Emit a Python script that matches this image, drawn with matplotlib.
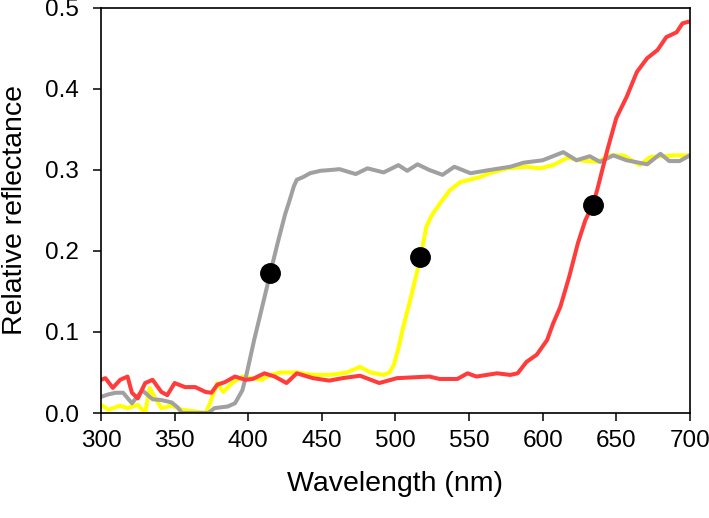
import numpy as np
import matplotlib
matplotlib.use("Agg")
import matplotlib.pyplot as plt

plt.rcParams['font.family'] = ['Liberation Sans', 'DejaVu Sans']

# gray curve
gray_wl = [300, 305, 310, 315, 321, 328, 335, 341, 348, 352, 355, 373, 377, 386, 391,
           396, 399, 404, 410, 415, 420, 425, 428, 431, 433, 437, 442, 449, 456, 462, 473,
           481, 492, 502, 508, 515, 523, 532, 540, 551, 564, 578, 587, 600, 614, 623,
           632, 639, 648, 657, 671, 680, 686, 693, 699, 700]
gray_r = [0.020, 0.023, 0.025, 0.025, 0.012, 0.028, 0.017, 0.016, 0.013, 0.007, 0.0, 0.0,
          0.006, 0.008, 0.012, 0.028, 0.049, 0.090, 0.135, 0.173, 0.210, 0.245, 0.262,
          0.280, 0.288, 0.291, 0.296, 0.299, 0.300, 0.301, 0.295, 0.302, 0.297, 0.306, 0.299,
          0.307, 0.300, 0.294, 0.304, 0.296, 0.300, 0.304, 0.309, 0.312, 0.322, 0.312,
          0.317, 0.310, 0.318, 0.312, 0.307, 0.320, 0.311, 0.311, 0.317, 0.318]

# yellow curve
yellow_wl = [300, 305, 313, 318, 325, 330, 333, 337, 341, 348, 355, 364, 371, 374, 379,
             383, 389, 396, 409, 415, 422, 433, 444, 456, 467, 476, 483, 492, 496, 499,
             502, 505, 510, 517, 521, 525, 530, 537, 544, 557, 564, 576, 589, 598, 607,
             617, 625, 637, 646, 655, 666, 673, 689, 698, 700]
yellow_r = [0.010, 0.004, 0.009, 0.006, 0.010, 0.0, 0.031, 0.018, 0.006, 0.009, 0.004,
            0.002, 0.0, 0.012, 0.037, 0.026, 0.037, 0.045, 0.041, 0.047, 0.050, 0.050,
            0.047, 0.047, 0.050, 0.057, 0.050, 0.047, 0.050, 0.060, 0.080, 0.104, 0.139,
            0.192, 0.230, 0.245, 0.258, 0.275, 0.285, 0.291, 0.296, 0.302, 0.304, 0.302,
            0.306, 0.315, 0.312, 0.310, 0.318, 0.318, 0.306, 0.316, 0.318, 0.318, 0.318]

# red curve
red_wl = [300, 303, 308, 313, 318, 321, 325, 330, 335, 341, 345, 350, 357, 364, 371,
          375, 379, 384, 391, 398, 403, 411, 418, 426, 433, 444, 455, 464, 476, 489,
          501, 512, 523, 530, 542, 549, 555, 569, 578, 583, 589, 596, 603, 607, 612,
          618, 624, 629, 634, 637, 644, 650, 657, 664, 671, 678, 684, 691, 695, 699, 700]
red_r = [0.041, 0.043, 0.031, 0.041, 0.045, 0.025, 0.018, 0.037, 0.041, 0.026, 0.022,
         0.037, 0.032, 0.032, 0.026, 0.025, 0.035, 0.038, 0.045, 0.041, 0.042, 0.049,
         0.045, 0.037, 0.049, 0.043, 0.040, 0.043, 0.046, 0.037, 0.043, 0.044, 0.045,
         0.042, 0.042, 0.049, 0.045, 0.049, 0.047, 0.049, 0.063, 0.072, 0.090, 0.110,
         0.131, 0.168, 0.210, 0.238, 0.257, 0.275, 0.325, 0.364, 0.390, 0.421, 0.438,
         0.448, 0.464, 0.470, 0.481, 0.483, 0.483]

# midpoints (black dots)
dot_wl = [415, 517, 634]
dot_r = [0.173, 0.192, 0.257]

fig = plt.figure(figsize=(7.09, 5.18), dpi=100)
ax = fig.add_axes([0.1425, 0.2027, 0.8305, 0.7819])

ax.plot(yellow_wl, yellow_r, color='#ffff00', lw=2.9, solid_joinstyle='round')
ax.plot(gray_wl, gray_r, color='#a0a0a0', lw=2.9, solid_joinstyle='round')
ax.plot(red_wl, red_r, color='#ff3c3c', lw=2.9, solid_joinstyle='round')
ax.plot(dot_wl, dot_r, 'o', color='black', ms=14, zorder=5)

ax.set_xlim(300, 700)
ax.set_ylim(0, 0.5)
ax.set_xticks(np.arange(300, 701, 50))
ax.set_yticks(np.arange(0, 0.51, 0.1))
ax.yaxis.set_major_formatter(matplotlib.ticker.FormatStrFormatter('%.1f'))
ax.tick_params(direction='out', length=6, width=1.1, labelsize=17.5,
               top=False, right=False)
ax.tick_params(axis='x', pad=6)
ax.tick_params(axis='y', pad=10)
for s in ax.spines.values():
    s.set_linewidth(1.2)

ax.set_xlabel('Wavelength (nm)', fontsize=20.5, labelpad=14)
ax.set_ylabel('Relative reflectance', fontsize=20.5, labelpad=12)

fig.savefig('out.png', dpi=100)
